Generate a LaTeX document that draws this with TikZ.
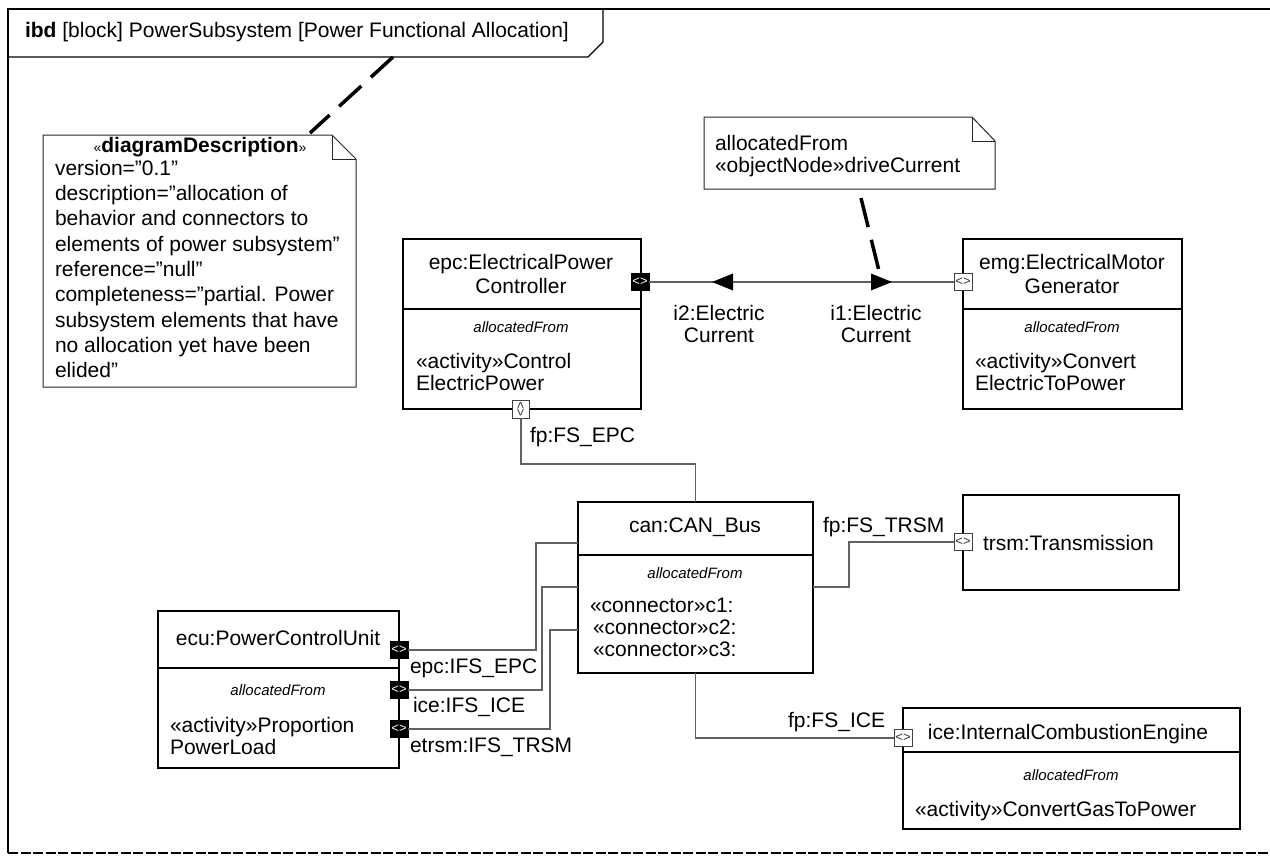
\documentclass[tikz,border=0pt]{standalone}
\usepackage{fontspec}
\setmainfont{Liberation Sans}
\usetikzlibrary{calc}
\begin{document}
\begin{tikzpicture}[x=1pt,y=-1pt,
  every node/.style={font=\fontsize{21}{24}\selectfont, inner sep=0pt, outer sep=0pt},
  blk/.style={draw=black, line width=1.1pt, fill=white, anchor=north west},
  cline/.style={draw=black, line width=1.1pt},
  conn/.style={draw=black!62, line width=1.3pt},
  alloc/.style={font=\fontsize{15}{18}\selectfont\itshape, anchor=base},
  bport/.style={draw=black, fill=black, line width=0.6pt, minimum width=18pt, minimum height=17pt, text=white, font=\fontsize{13}{13}\selectfont},
  wport/.style={draw=black!75, fill=white, line width=0.8pt, minimum width=18pt, minimum height=17pt, text=black!80, font=\fontsize{13}{13}\selectfont},
  anchorline/.style={line width=3.5pt, dash pattern=on 30pt off 13pt},
  flowtip/.style={fill=black, draw=none},
  notebox/.style={draw=black!85, line width=1pt, fill=white},
]
\useasboundingbox (0,0) rectangle (1270,859);
\fill[white] (0,0) rectangle (1270,859);

% ---- frame ----
\draw[line width=1.5pt] (8,853) -- (8,9) -- (1270,9);
\draw[line width=2.5pt, dash pattern=on 10pt off 2.5pt] (8,853) -- (1270,853);
\node[anchor=base west] (title) at (25,38) {\textbf{ibd} [block] PowerSubsystem [Power Functional Allocation]};
\draw[line width=1.1pt] (8,57) -- (588,57) -- (603,42) -- (603,9);

% ---- diagram description note ----
\node[anchor=north west, minimum width=313pt, minimum height=252pt] (desc) at (43,135) {};
\draw[notebox] (desc.north west) -- ($(desc.north east)+(-24,0)$) -- ($(desc.north east)+(0,-24pt)$) -- (desc.south east) -- (desc.south west) -- cycle;
\draw[notebox, fill=none] ($(desc.north east)+(-24,0)$) -- ($(desc.north east)+(-24,0)+(0,-24pt)$) -- ($(desc.north east)+(0,-24pt)$);
\node[anchor=base] (descT) at (200,152) {{\fontsize{14}{14}\selectfont «}\textbf{diagramDescription}{\fontsize{14}{14}\selectfont »}};
\node[anchor=north west, align=left, font=\fontsize{21}{25.3}\selectfont] (descB) at (55,160)
 {version=”0.1"\\description=”allocation of\\behavior and connectors to\\elements of power subsystem"\\reference=”null”\\completeness=”partial. Power\\subsystem elements that have\\no allocation yet have been\\elided”};
\coordinate (descA1) at (393,57);
\coordinate (descA2) at (310,133);
\draw[anchorline] (descA1) -- (descA2);

% ---- allocation note ----
\node[anchor=north west, minimum width=291pt, minimum height=72pt] (anote) at (704,117) {};
\draw[notebox] (anote.north west) -- ($(anote.north east)+(-23,0)$) -- ($(anote.north east)+(0,-24pt)$) -- (anote.south east) -- (anote.south west) -- cycle;
\draw[notebox, fill=none] ($(anote.north east)+(-23,0)$) -- ($(anote.north east)+(-23,0)+(0,-24pt)$) -- ($(anote.north east)+(0,-24pt)$);
\node[anchor=base west] (anoteT1) at (715,150) {allocatedFrom};
\node[anchor=base west] (anoteT2) at (715,172) {«objectNode»driveCurrent};

% ---- blocks ----
\node[blk, minimum width=238pt, minimum height=170pt] (epc) at (403,239) {};
\draw[cline] ([yshift=-70pt]epc.north west) -- ([yshift=-70pt]epc.north east);
\node[anchor=base] (epcT1) at (521,269) {epc:ElectricalPower};
\node[anchor=base] (epcT2) at (521,293) {Controller};
\node[alloc] (epcA) at (521,332) {allocatedFrom};
\node[anchor=base west] (epcB1) at (416,368) {«activity»Control};
\node[anchor=base west] (epcB2) at (416,390) {ElectricPower};

\node[blk, minimum width=219pt, minimum height=170pt] (emg) at (963,239) {};
\draw[cline] ([yshift=-70pt]emg.north west) -- ([yshift=-70pt]emg.north east);
\node[anchor=base] (emgT1) at (1072,269) {emg:ElectricalMotor};
\node[anchor=base] (emgT2) at (1072,293) {Generator};
\node[alloc] (emgA) at (1072,332) {allocatedFrom};
\node[anchor=base west] (emgB1) at (975,368) {«activity»Convert};
\node[anchor=base west] (emgB2) at (975,390) {ElectricToPower};

\node[blk, minimum width=235pt, minimum height=171pt] (can) at (578,502) {};
\draw[cline] ([yshift=-53pt]can.north west) -- ([yshift=-53pt]can.north east);
\node[anchor=base] (canT) at (695,532) {can:CAN\_Bus};
\node[alloc] (canA) at (695,578) {allocatedFrom};
\node[anchor=base west] (canC1) at (590,612) {«connector»c1:};
\node[anchor=base west] (canC2) at (593,634) {«connector»c2:};
\node[anchor=base west] (canC3) at (593,656) {«connector»c3:};

\node[blk, minimum width=241pt, minimum height=157pt] (ecu) at (158,611) {};
\draw[cline] ([yshift=-57pt]ecu.north west) -- ([yshift=-57pt]ecu.north east);
\node[anchor=base] (ecuT) at (278,645) {ecu:PowerControlUnit};
\node[alloc] (ecuA) at (278,695) {allocatedFrom};
\node[anchor=base west] (ecuB1) at (170,732) {«activity»Proportion};
\node[anchor=base west] (ecuB2) at (170,754) {PowerLoad};

\node[blk, minimum width=216pt, minimum height=95pt] (trsm) at (963,495) {};
\node[anchor=base west] (trsmT) at (983,550) {trsm:Transmission};

\node[blk, minimum width=337pt, minimum height=121pt] (ice) at (903,708) {};
\draw[cline] ([yshift=-44pt]ice.north west) -- ([yshift=-44pt]ice.north east);
\node[anchor=base] (iceT) at (1068,739) {ice:InternalCombustionEngine};
\node[alloc] (iceA) at (1071,780) {allocatedFrom};
\node[anchor=base west] (iceB) at (915,816) {«activity»ConvertGasToPower};

% ---- ports ----
\node[bport] (epcR) at (640,282) {<>};
\node[wport, rotate=90] (epcBp) at (521,409) {<>};
\node[wport] (emgL) at (963,282) {<>};
\node[bport] (ecuP1) at (399,650) {<>};
\node[bport] (ecuP2) at (399,690) {<>};
\node[bport] (ecuP3) at (399,729) {<>};
\node[wport] (trsmL) at (963,542) {<>};
\node[wport] (iceL) at (903,738) {<>};

% ---- connectors ----
\draw[conn] (epcR.east) -- (emgL.west);
\fill[flowtip] (712,282) -- (733,273.5) -- (733,290.5) -- cycle;
\fill[flowtip] (892,282) -- (871,273.5) -- (871,290.5) -- cycle;
\node[anchor=base] (i2a) at (719,320) {i2:Electric};
\node[anchor=base] (i2b) at (719,342) {Current};
\node[anchor=base] (i1a) at (876,320) {i1:Electric};
\node[anchor=base] (i1b) at (876,342) {Current};
\coordinate (aA1) at (861,198);
\coordinate (aA2) at (881,279);
\draw[anchorline] (aA1) -- (aA2);

\draw[conn] (epcBp.west) |- (can.north |- 0,464) -- (can.north);
\node[anchor=base west] (fpEPC) at (530,442) {fp:FS\_EPC};

\draw[conn] (can.south) |- (iceL.west);
\node[anchor=base east] (fpICE) at (885,727) {fp:FS\_ICE};

\draw[conn] (can.east |- 0,587) -| ($(trsmL.west)+(-105,0)$) -- (trsmL.west);
\node[anchor=base west] (fpTRSM) at (823,532) {fp:FS\_TRSM};

\draw[conn] (ecuP1.east) -| (536,543) -- (can.west |- 0,543);
\draw[conn] (ecuP2.east) -| (542,587) -- (can.west |- 0,587);
\draw[conn] (ecuP3.east) -| (550,630) -- (can.west |- 0,630);
\node[anchor=base west] (lEPC) at (410,673) {epc:IFS\_EPC};
\node[anchor=base west] (lICE) at (413,712) {ice:IFS\_ICE};
\node[anchor=base west] (lTRSM) at (410,752) {etrsm:IFS\_TRSM};
\end{tikzpicture}
\end{document}
